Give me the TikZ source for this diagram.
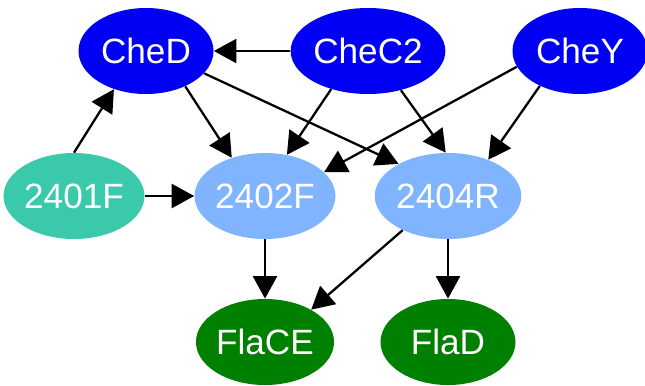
\documentclass[tikz,border=0pt]{standalone}
\usepackage{fontspec}
\setmainfont{Liberation Sans}
\usetikzlibrary{shapes, arrows, arrows.meta}
\definecolor{cheblue}{RGB}{0,0,245}
\definecolor{teal2401}{RGB}{59,201,172}
\definecolor{lightfla}{RGB}{128,180,255}
\definecolor{flagreen}{RGB}{0,128,0}
\begin{document}
\begin{tikzpicture}[
    gene/.style={ellipse, inner sep=0pt, minimum width=2.7cm, minimum height=1.72cm,
                 text=white, font=\fontsize{20}{24}\selectfont},
    link/.style={line width=1.3pt, -{Triangle[length=0.45cm, width=0.48cm]}}
]
            \useasboundingbox (0, 0) rectangle (12.9, -7.7);
            \node[gene, fill=cheblue] (n0) at (2.92, -1.02) {CheD};
            \node[gene, fill=cheblue] (n1) at (7.36, -1.02) {CheC2};
            \node[gene, fill=cheblue] (n2) at (11.6, -1.02) {CheY};
            \node[gene, fill=teal2401] (n3) at (1.48, -3.92) {2401F};
            \node[gene, fill=lightfla] (n4) at (5.3, -3.92) {2402F};
            \node[gene, fill=lightfla] (n5) at (8.96, -3.92) {2404R};
            \node[gene, fill=flagreen] (n6) at (5.3, -6.84) {FlaCE};
            \node[gene, fill=flagreen] (n7) at (8.96, -6.84) {FlaD};
            
            \draw[link] (n1.west) -- (n0.east);
            \draw[link] (n3.north) -- (n0.230);
            \draw[link] (n0.318) -- (n4.131);
            \draw[link] (n0.339) -- (n5.147);
            \draw[link] (n1.226) -- (n4.62);
            \draw[link] (n1.310) -- (n5.93);
            \draw[link] (n2.194) -- (n4.22);
            \draw[link] (n2.221) -- (n5.42);
            \draw[link] (n3.east) -- (n4.west);
            \draw[link] (n4.south) -- (n6.north);
            \draw[link] (n5.217) -- (n6.35);
            \draw[link] (n5.south) -- (n7.north);
    	\end{tikzpicture}
\end{document}
